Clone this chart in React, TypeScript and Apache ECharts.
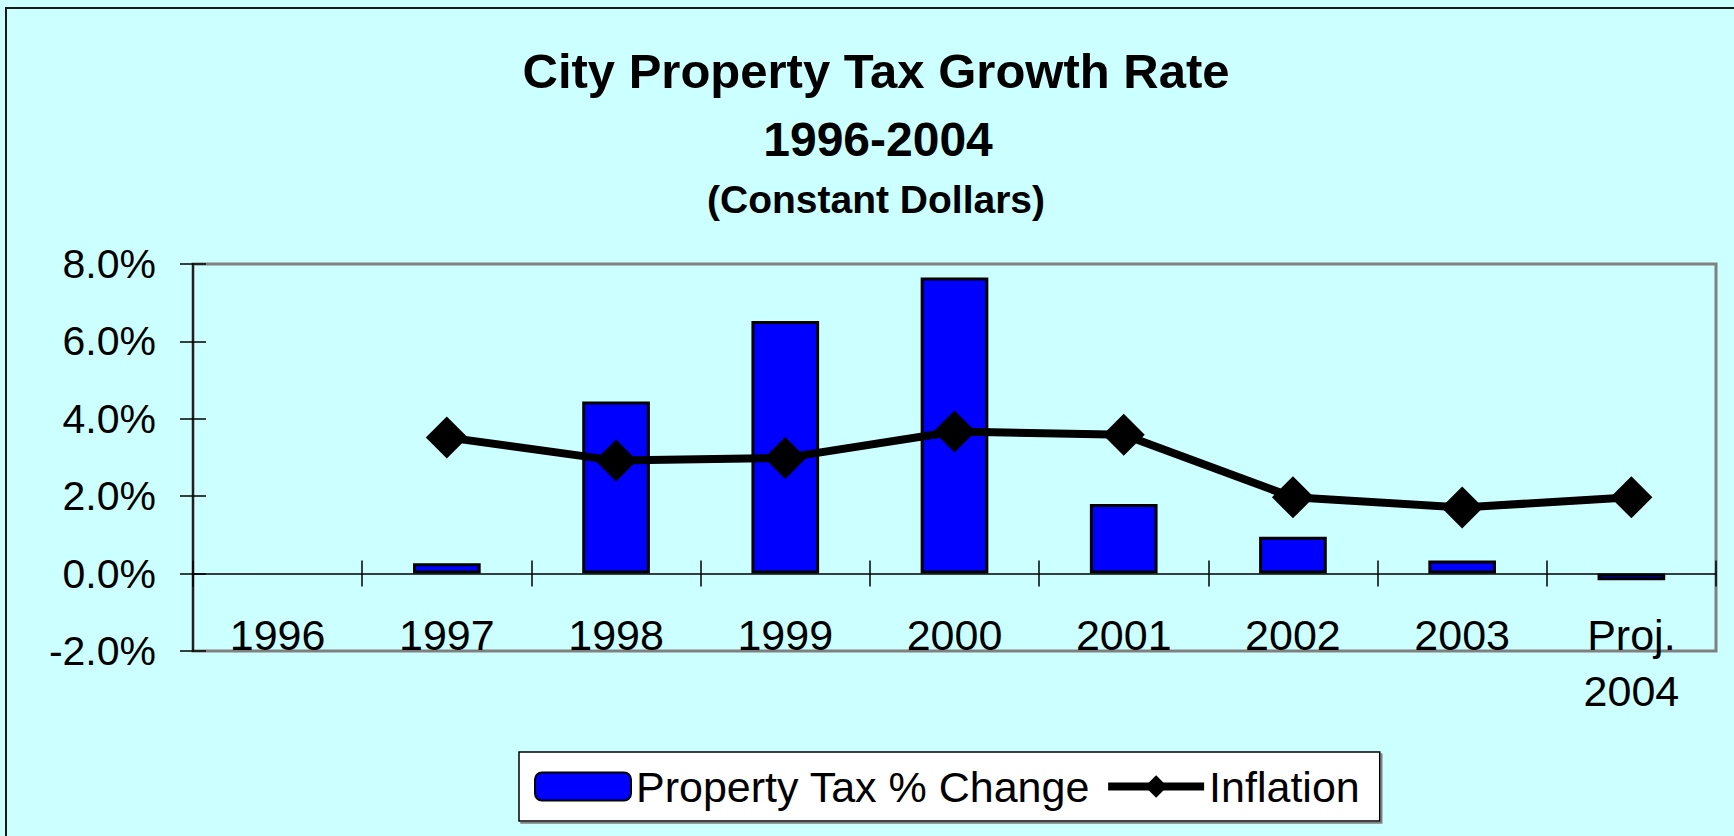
import React, { useEffect, useRef } from "react";
import * as echarts from "echarts";

const categories = ["1996", "1997", "1998", "1999", "2000", "2001", "2002", "2003", "Proj.\n2004"];
const propertyTaxChange = [null, 0.27, 4.45, 6.53, 7.65, 1.8, 0.95, 0.34, -0.17];
const inflation = [null, 3.52, 2.92, 2.99, 3.67, 3.59, 1.97, 1.71, 1.97];
const titleLines = ["City Property Tax Growth Rate", "1996-2004", "(Constant Dollars)"];
const seriesNames = ["Property Tax % Change", "Inflation"];

const FONT = '"Liberation Sans", Arial, Helvetica, sans-serif';

export default function App() {
  const ref = useRef<HTMLDivElement>(null);
  useEffect(() => {
    if (!ref.current) return;
    const chart = echarts.init(ref.current, null, { renderer: "svg" });
    const yCommon = {
      type: "value",
      min: -2,
      max: 8,
      interval: 2,
      splitLine: { show: false },
    };
    chart.setOption({
      animation: false,
      backgroundColor: "#CCFFFF",
      textStyle: { fontFamily: FONT },
      title: [
        {
          text: titleLines[0],
          left: 876,
          top: 46,
          textAlign: "center",
          padding: 0,
          textStyle: { fontSize: 49, fontWeight: "bold", color: "#000", fontFamily: FONT },
        },
        {
          text: titleLines[1],
          left: 878,
          top: 115,
          textAlign: "center",
          padding: 0,
          textStyle: { fontSize: 48, fontWeight: "bold", color: "#000", fontFamily: FONT },
        },
        {
          text: titleLines[2],
          left: 876,
          top: 180,
          textAlign: "center",
          padding: 0,
          textStyle: { fontSize: 39, fontWeight: "bold", color: "#000", fontFamily: FONT },
        },
      ],
      graphic: [
        {
          type: "rect",
          shape: { x: 6, y: 8, width: 1800, height: 900 },
          style: { fill: "none", stroke: "#1a1a1a", lineWidth: 2 },
          silent: true,
          z: 100,
        },
      ],
      legend: {
        data: [
          { name: seriesNames[0] },
          {
            name: seriesNames[1],
            lineStyle: { color: "#000", width: 8 },
            itemStyle: { color: "#000" },
          },
        ],
        left: 519,
        top: 752,
        orient: "horizontal",
        padding: [13, 20, 13, 15],
        itemWidth: 96,
        itemHeight: 28,
        itemGap: 14,
        backgroundColor: "#FFFFFF",
        borderColor: "#000",
        borderWidth: 1.5,
        shadowColor: "#808080",
        shadowOffsetX: 2,
        shadowOffsetY: 2,
        shadowBlur: 0,
        textStyle: { fontSize: 43, color: "#000", fontFamily: FONT },
      },
      grid: {
        left: 193,
        top: 264,
        right: 18,
        bottom: 185,
        show: true,
        borderColor: "#808080",
        borderWidth: 3,
        backgroundColor: "transparent",
      },
      xAxis: [
        {
          type: "category",
          data: categories,
          boundaryGap: true,
          axisLine: { onZero: true, lineStyle: { color: "#000", width: 1.5 } },
          axisTick: { show: true, length: 13, alignWithLabel: false, lineStyle: { color: "#000", width: 1.5 } },
          axisLabel: {
            fontSize: 43,
            color: "#000",
            fontFamily: FONT,
            margin: -44,
            lineHeight: 56,
            interval: 0,
          },
          splitLine: { show: false },
        },
        {
          type: "category",
          data: categories,
          position: "bottom",
          boundaryGap: true,
          axisLine: { show: false, onZero: true },
          axisTick: { show: true, inside: true, length: 13, lineStyle: { color: "#000", width: 1.5 } },
          axisLabel: { show: false },
          splitLine: { show: false },
        },
      ],
      yAxis: [
        {
          ...yCommon,
          position: "left",
          z: 5,
          axisLine: { show: true, onZero: false, lineStyle: { color: "#000", width: 1.5 } },
          axisTick: { show: true, length: 13, lineStyle: { color: "#000", width: 1.5 } },
          axisLabel: {
            fontSize: 41,
            color: "#000",
            fontFamily: FONT,
            margin: 37,
            formatter: (v: number) => v.toFixed(1) + "%",
          },
        },
        {
          ...yCommon,
          position: "left",
          axisLine: { show: false, onZero: false },
          axisTick: { show: true, inside: true, length: 13, lineStyle: { color: "#000", width: 1.5 } },
          axisLabel: { show: false },
        },
      ],
      series: [
        {
          name: seriesNames[0],
          type: "bar",
          data: propertyTaxChange,
          xAxisIndex: 0,
          yAxisIndex: 0,
          barWidth: "40%",
          itemStyle: { color: "#0000FF", borderColor: "#000", borderWidth: 3 },
          z: 2,
        },
        {
          name: seriesNames[1],
          type: "line",
          data: inflation,
          xAxisIndex: 0,
          yAxisIndex: 0,
          symbol: "diamond",
          symbolSize: 42,
          lineStyle: { color: "#000", width: 8 },
          itemStyle: { color: "#000" },
          z: 3,
        },
      ],
    });
    return () => chart.dispose();
  }, []);
  return (
    <div
      ref={ref}
      style={{ position: "fixed", left: 0, top: 0, width: 1734, height: 836, background: "#CCFFFF" }}
    />
  );
}
